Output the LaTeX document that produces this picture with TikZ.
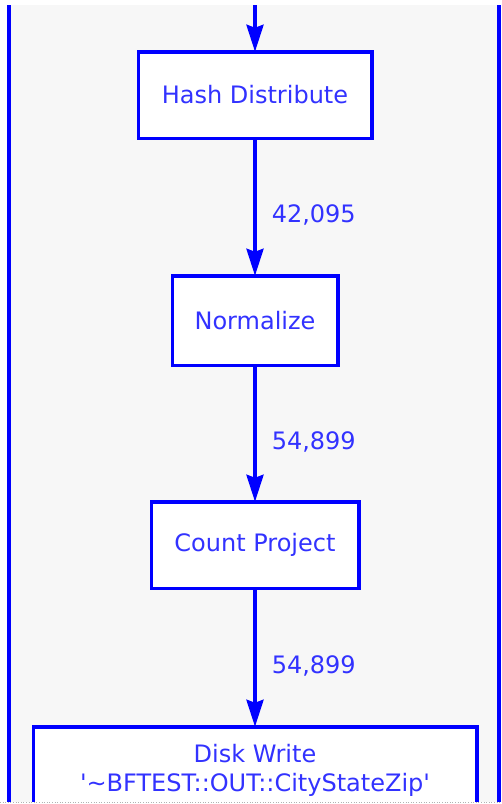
\documentclass[tikz,border=0pt]{standalone}
\usepackage{fontspec}
\newfontfamily\dv{DejaVu Sans}
\usetikzlibrary{arrows.meta}
\definecolor{bl}{RGB}{0,0,255}
\definecolor{tx}{RGB}{50,50,255}
\definecolor{bg}{RGB}{247,247,247}
\begin{document}
\begin{tikzpicture}[x=1pt,y=-1pt,
  box/.style={draw=bl,line width=3.5pt,fill=white,text=tx,
    font=\dv\fontsize{24}{29}\selectfont,minimum height=86.5pt,
    inner sep=0pt,outer sep=0pt,align=center},
  flow/.style={draw=bl,line width=3.5pt,-{Stealth[length=27pt,width=17pt,inset=3pt]}},
  cnt/.style={text=tx,font=\dv\fontsize{24}{29}\selectfont,anchor=west,
    inner sep=0pt,xshift=15pt,pos=0.56}]
\useasboundingbox (0,0) rectangle (502,804);
\fill[white] (0,0) rectangle (502,804);
\fill[bg] (9,5) rectangle (498.5,802);
\draw[bl,line width=4pt] (9,5) -- (9,802);
\draw[bl,line width=4pt] (498.5,5) -- (498.5,802);
\coordinate (src) at (255,5);
\node[box,minimum width=233.5pt] (hash) at (255,95) {Hash Distribute};
\node[box,minimum width=165.5pt,minimum height=89.5pt] (norm) at (255,320.5) {Normalize};
\node[box,minimum width=207.5pt] (count) at (255,545) {Count Project};
\node[box,minimum width=443.5pt] (disk) at (255,770) {Disk Write\\'\textasciitilde BFTEST::OUT::CityStateZip'};
\draw[flow] (src) -- (hash);
\draw[flow] (hash) -- node[cnt]{42,095} (norm);
\draw[flow] (norm) -- node[cnt]{54,899} (count);
\draw[flow] (count) -- node[cnt]{54,899} (disk);
\fill[white] (0,802) rectangle (502,804);
\draw[gray!60,line width=0.6pt,dotted] (0,802.5) -- (502,802.5);
\end{tikzpicture}
\end{document}
